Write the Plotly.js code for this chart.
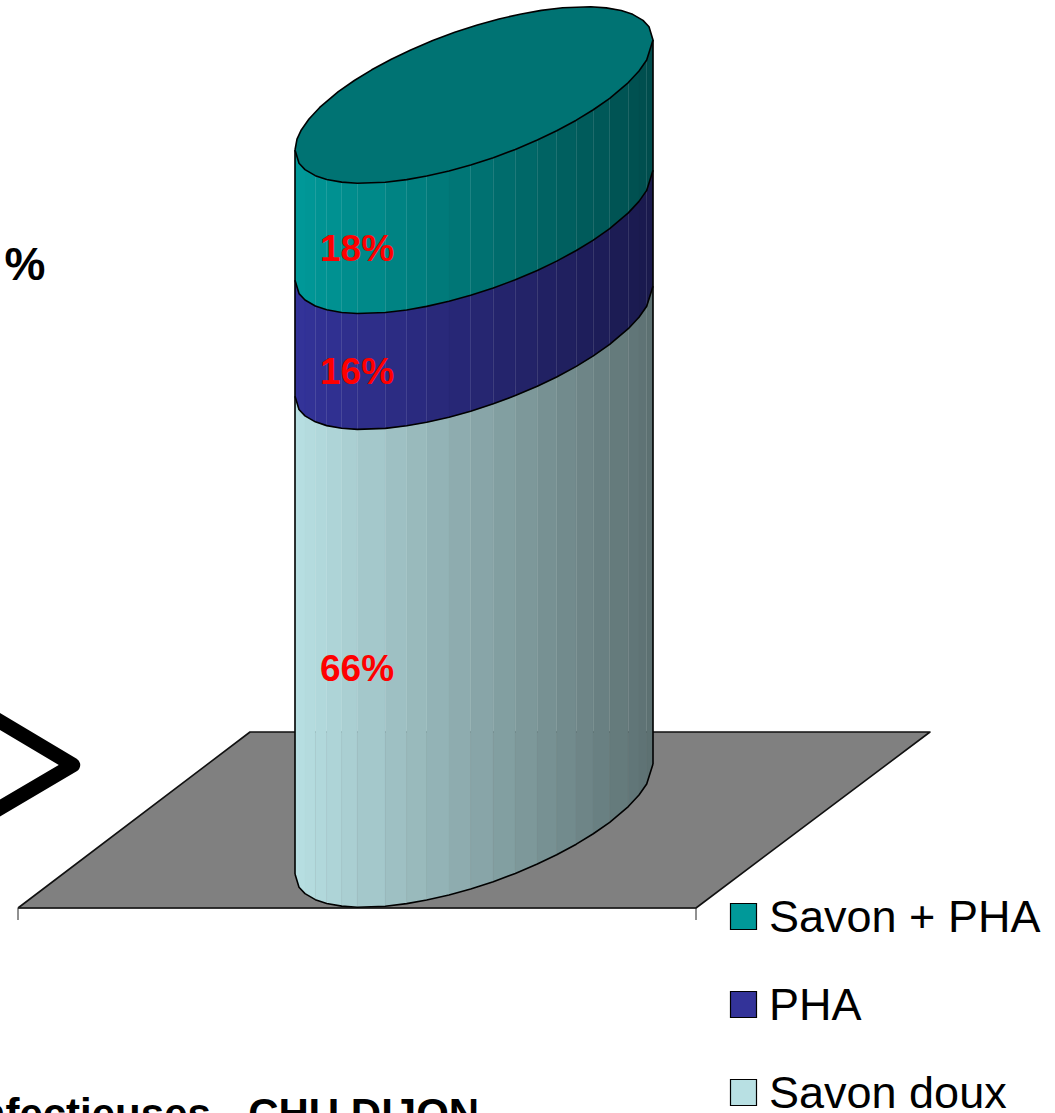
<!DOCTYPE html>
<html><head><meta charset="utf-8">
<script src="https://cdn.plot.ly/plotly-3.0.1.min.js"></script>
<style>html,body{margin:0;padding:0;background:#fff;overflow:hidden}#c{width:1055px;height:1113px}
.js-line{stroke-linejoin:round !important}</style>
</head><body><div id="c"></div>
<script>
// Data (bottom to top of the stack)
const categories = ['Savon doux', 'PHA', 'Savon + PHA'];
const values = [66, 16, 18];
const baseColors = [[184, 224, 227], [51, 51, 153], [0, 153, 153]];
const legendOrder = [2, 1, 0];
const leftLabel = '8\u200A%';
const footerLabel = 'Maladies Infectieuses - CHU DIJON';
// x positions of the cylinder's facets
const facetEdges = [295, 299, 305, 315.3, 326.7, 341.7, 357.3, 385.3, 406.7, 426.7, 449, 470.7, 493.3, 515.3, 537.3, 556.7, 576.3, 593.3, 609.7, 628.3, 639, 646.7, 653];

const W = 1055, H = 1113;
const FONT = 'Liberation Sans, Arial, sans-serif';
// y axis is in percent: v=0 sits at pixel 819, 7.24 px per percent
const BASE = 819, K = 7.24;
const v = p => (BASE - p) / K;
const cx = 474, a = 179, b = 69, s = 55, LW = 1.6;
const off = x => { // downward pixel offset of front rim at x
  const c = Math.max(-1, Math.min(1, (x - cx) / a));
  const t = Math.acos(c);
  return b * Math.sin(t) - s * c;
};
const front = (x, val) => val - off(x) / K;

const rgb = (c, f) => `rgb(${Math.round(c[0] * f)},${Math.round(c[1] * f)},${Math.round(c[2] * f)})`;
const traces = [];
const poly = (x, y, fill, line, lw) => traces.push({
  type: 'scatter', mode: lw ? 'lines' : 'none', x, y, fill: fill ? 'toself' : 'none', fillcolor: fill || undefined,
  line: { color: line || 'rgba(0,0,0,0)', width: lw || 0 }, hoverinfo: 'skip', showlegend: false
});

// floor
const fx = [18, 250, 930, 696, 18], fy = [908, 732, 732, 908, 908];
poly(fx, fy.map(v), '#808080', '#111', LW);
poly([18, 18, 18, 696, 696, 696], [920, 908, 908, 908, 908, 920].map(v), null, '#222', 1);

// chevron, partly cropped by the left edge
poly([-40, 73, -40], [697.7, 765, 831.6].map(v), null, '#000', 14.5);

// stacked cylinder
let cum = 0;
const tops = [];
values.forEach((val, i) => {
  const v0 = cum, v1 = cum + val;
  for (let j = 0; j < facetEdges.length - 1; j++) {
    const x0 = facetEdges[j], x1 = facetEdges[j + 1];
    const f = 1 - 0.5 * ((x0 + x1) / 2 - 295) / 358;
    const col = rgb(baseColors[i], f);
    poly([x0, x1, x1, x0, x0], [front(x0, v0), front(x1, v0), front(x1, v1), front(x0, v1), front(x0, v0)], col, col, 0.3);
  }
  tops.push(v1);
  cum = v1;
});
// rims and outline
[0].concat(tops.slice(0, -1)).forEach(val => poly(facetEdges, facetEdges.map(x => front(x, val)), null, '#000', LW));
const total = cum;
poly([295, 295], [front(295, 0), front(295, total)], null, '#000', LW);
poly([653, 653], [front(653, 0), front(653, total)], null, '#000', LW);
// top face: front rim, then its point reflection for the back rim
const backSamples = facetEdges.concat([651]).sort((p, q) => p - q);
const topX = facetEdges.concat(backSamples.map(x => 2 * cx - x));
const topY = facetEdges.map(x => front(x, total)).concat(backSamples.map(x => total + off(x) / K));
poly(topX.concat(topX[0]), topY.concat(topY[0]), rgb(baseColors[2], 0.75), '#000', LW);

// legend swatches
const legY = [916.5, 1004.5, 1092.5];
traces.push({
  type: 'scatter', mode: 'markers', x: [743.5, 743.5, 743.5], y: legY.map(v),
  marker: { symbol: 'square', size: 26, color: legendOrder.map(i => rgb(baseColors[i], 1)), line: { color: '#000', width: 1.2 } },
  hoverinfo: 'skip', showlegend: false
});

const annotations = [];
// value labels, at the front of each band
cum = 0;
values.forEach(val => {
  annotations.push({
    x: 357, y: front(357, cum + val / 2), text: '<b>' + val + '%</b>', showarrow: false,
    font: { family: FONT, size: 37, color: '#ff0000' }, xanchor: 'center', yanchor: 'middle'
  });
  cum += val;
});
legendOrder.forEach((i, n) => annotations.push({
  x: 767, y: v(legY[n]), text: categories[i], showarrow: false, xanchor: 'left', yanchor: 'middle',
  font: { family: FONT, size: 45, color: '#000' }
}));
annotations.push({ x: 47, y: v(264), text: '<b>' + leftLabel + '</b>', showarrow: false, xanchor: 'right', yanchor: 'middle', font: { family: FONT, size: 46, color: '#000' } });
annotations.push({ x: 481, y: v(1088), text: '<b>' + footerLabel + '</b>', showarrow: false, xanchor: 'right', yanchor: 'top', font: { family: FONT, size: 42, color: '#000' } });

Plotly.newPlot('c', traces, {
  width: W, height: H, margin: { l: 0, r: 0, t: 0, b: 0 }, paper_bgcolor: '#fff', plot_bgcolor: '#fff', showlegend: false,
  xaxis: { range: [0, W], visible: false, fixedrange: true },
  yaxis: { range: [v(H), v(0)], visible: false, fixedrange: true },
  annotations
}, { displayModeBar: false, staticPlot: true });
</script></body></html>
